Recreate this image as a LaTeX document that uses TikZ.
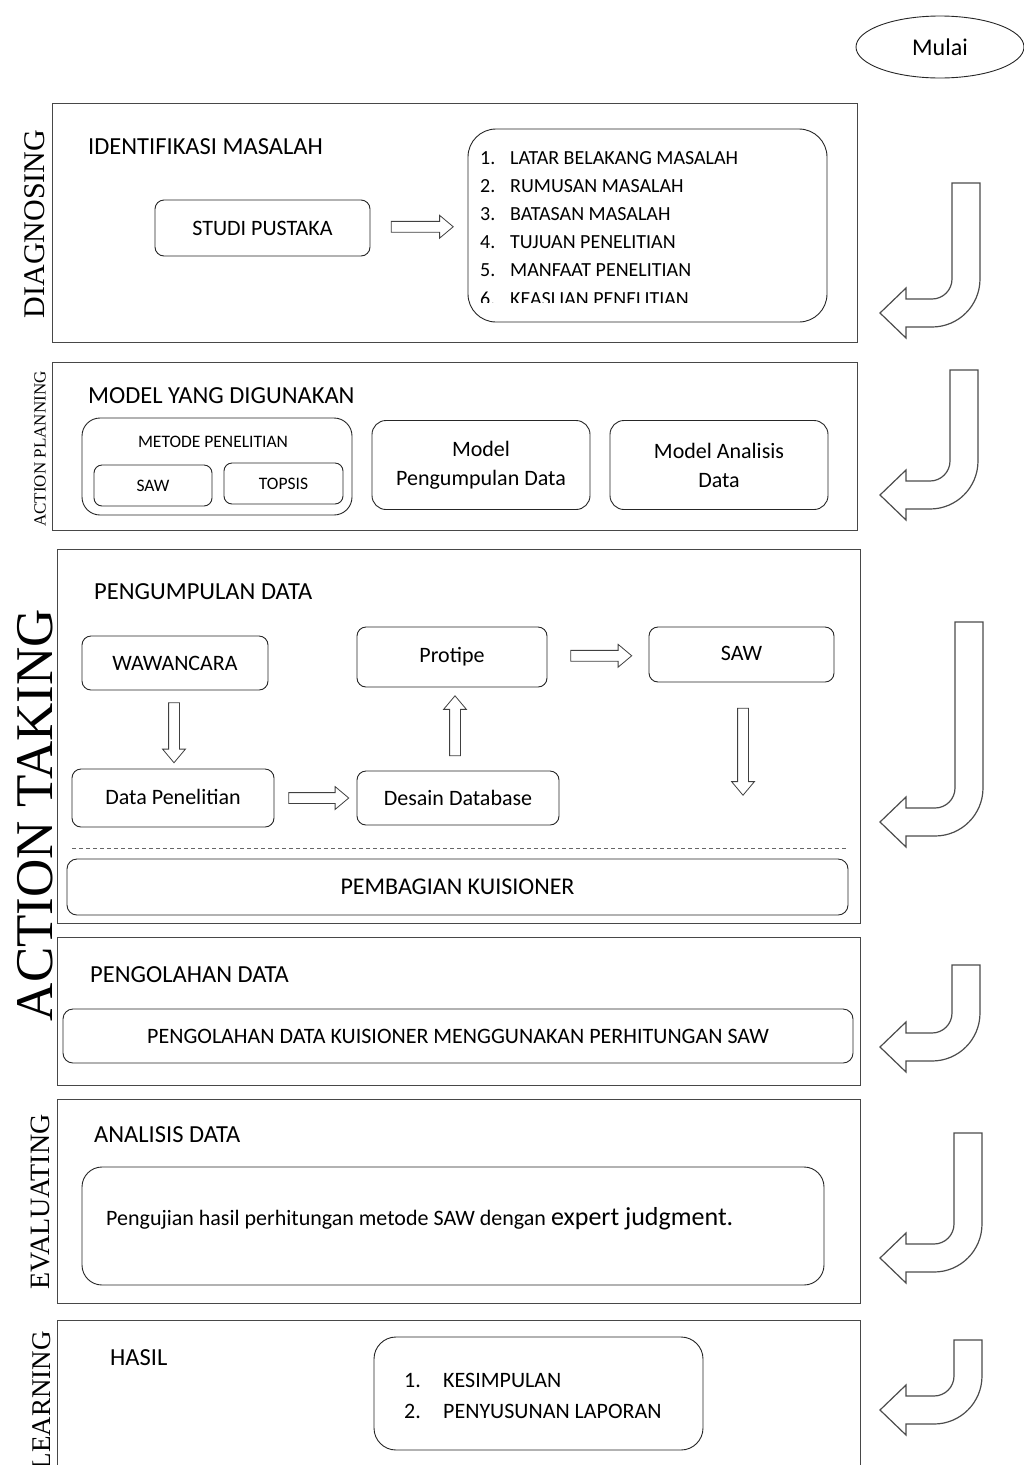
\documentclass[tikz,border=0pt]{standalone}
\usepackage{fontspec}
\setmainfont{Carlito}
\newfontfamily\tnr{Liberation Serif}
\usetikzlibrary{shapes.geometric,shapes.arrows}
\tikzset{
 secbox/.style={draw=black!72, line width=1.4pt, rectangle, inner sep=0pt, anchor=north west},
 rbox/.style={draw=black!85, line width=0.9pt, rectangle, rounded corners=#1, inner sep=0pt, align=center},
 rbox/.default=8pt,
 blk/.style={single arrow, draw=black!75, line width=0.8pt, fill=white, inner sep=5pt,
   single arrow head extend=6pt, single arrow tip angle=80, minimum height=#1},
 jarr/.style={draw=black!70, line width=1.2pt, fill=white, line join=miter},
 headtxt/.style={font=\fontsize{24.5}{28}\selectfont, anchor=base west, inner sep=0pt},
 itemtxt/.style={font=\fontsize{20}{22}\selectfont, anchor=base west, inner sep=0pt},
 sidelbl/.style={font=\tnr, rotate=90, inner sep=0pt},
 boxtxt/.style={font=\fontsize{22}{29}\selectfont},
 smalltxt/.style={font=\fontsize{17.5}{20}\selectfont},
}
\newcommand\jarrow[3]{%
 \draw[jarr] ({#1-28},#2) -- (#1,#2) -- (#1,{#3+14-48})
   arc[start angle=0,end angle=-90,radius=48pt] -- (906,{#3+14}) -- (906,{#3+25})
   -- (880,#3) -- (906,{#3-25}) -- (906,{#3-14}) -- ({#1-48},{#3-14})
   arc[start angle=-90,end angle=0,radius=20pt] -- cycle;}
\begin{document}
\begin{tikzpicture}[x=1pt,y=-1pt]
\useasboundingbox (0,0) rectangle (1024,1465);
\clip (0,0) rectangle (1024,1465);
\fill[white] (0,0) rectangle (1024,1465);

% start
\node[ellipse, draw=black!85, line width=0.9pt, minimum width=168pt, minimum height=62pt, font=\fontsize{24}{28}\selectfont] (mulai) at (940,47) {Mulai};

% ---------- DIAGNOSING
\node[secbox, minimum width=805pt, minimum height=239pt] (diag) at (52,103) {};
\node[sidelbl, font=\tnr\fontsize{30}{30}\selectfont] (ldiag) at (35,224) {DIAGNOSING};
\node[headtxt] (hdiag) at (88,154) {IDENTIFIKASI MASALAH};
\node[rbox=9pt, minimum width=215pt, minimum height=56pt, boxtxt] (studi) at (262.5,228) {STUDI PUSTAKA};
\node[rbox=28pt, minimum width=359pt, minimum height=193pt] (list) at (647.5,225.5) {};
\node[itemtxt] (n1) at (480,164) {1.}; \node[itemtxt] (i1) at (510,164) {LATAR BELAKANG MASALAH};
\node[itemtxt] (n2) at (480,192) {2.}; \node[itemtxt] (i2) at (510,192) {RUMUSAN MASALAH};
\node[itemtxt] (n3) at (480,220) {3.}; \node[itemtxt] (i3) at (510,220) {BATASAN MASALAH};
\node[itemtxt] (n4) at (480,248) {4.}; \node[itemtxt] (i4) at (510,248) {TUJUAN PENELITIAN};
\node[itemtxt] (n5) at (480,276) {5.}; \node[itemtxt] (i5) at (510,276) {MANFAAT PENELITIAN};
\begin{scope}
\clip (470,280) rectangle (820,302);
\node[itemtxt] (n6) at (480,305) {6.}; \node[itemtxt] (i6) at (510,305) {KEASLIAN PENELITIAN};
\end{scope}
\path (studi.east) -- (list.west) node[midway, blk=62pt] (a1) {};
\jarrow{980}{183}{313}

% ---------- ACTION PLANNING
\node[secbox, minimum width=805pt, minimum height=168pt] (plan) at (52,362) {};
\node[sidelbl, font=\tnr\fontsize{17}{17}\selectfont] (lplan) at (40,449) {ACTION PLANNING};
\node[headtxt] (hplan) at (88,403) {MODEL YANG DIGUNAKAN};
\node[rbox=18pt, minimum width=270pt, minimum height=97pt] (metode) at (217,466.5) {};
\node[smalltxt] (tmetode) at (213,442) {METODE PENELITIAN};
\node[rbox=8pt, minimum width=118pt, minimum height=41pt, smalltxt] (saw1) at (153,485.5) {SAW};
\node[rbox=8pt, minimum width=119pt, minimum height=41pt, smalltxt] (topsis) at (283.5,483.5) {TOPSIS};
\node[rbox=14pt, minimum width=218pt, minimum height=89pt, boxtxt] (mpd) at (481,465) {Model\\Pengumpulan Data};
\node[rbox=14pt, minimum width=218pt, minimum height=89pt, boxtxt] (mad) at (719,465) {Model Analisis\\Data};
\jarrow{978}{370}{495}

% ---------- ACTION TAKING
\node[secbox, minimum width=803pt, minimum height=374pt] (take) at (57,549) {};
\node[sidelbl, font=\tnr\fontsize{53}{53}\selectfont] (ltake) at (35,815) {ACTION TAKING};
\node[headtxt] (htake) at (94,599) {PENGUMPULAN DATA};
\node[rbox=9pt, minimum width=186pt, minimum height=54pt, boxtxt] (waw) at (175,663) {WAWANCARA};
\node[rbox=9pt, minimum width=202pt, minimum height=58pt, boxtxt] (dpen) at (173,798) {\raisebox{3pt}{Data Penelitian}};
\node[rbox=9pt, minimum width=202pt, minimum height=54pt, boxtxt] (desain) at (458,798) {Desain Database};
\node[rbox=9pt, minimum width=190pt, minimum height=60pt, boxtxt] (protipe) at (452,657) {\raisebox{5pt}{Protipe}};
\node[rbox=9pt, minimum width=185pt, minimum height=55pt, boxtxt] (saw2) at (741.5,654.5) {\raisebox{3pt}{SAW}};
\coordinate (sawend) at (743,792);
\path (waw.south) -- (dpen.north) node[pos=0.5, blk=60pt, shape border rotate=270] (a2) {};
\path (dpen.east) -- (desain.west) node[midway, blk=60pt] (a3) {};
\path (desain.north) -- (protipe.south) node[midway, blk=60pt, shape border rotate=90] (a4) {};
\path (protipe.east) -- (saw2.west) node[midway, blk=61pt] (a5) {};
\path (743,705) -- (sawend) node[midway, blk=87pt, shape border rotate=270] (a6) {};
\draw[dashed, dash pattern=on 4pt off 3pt, black!60, line width=0.7pt] (72,848) -- (848,848);
\node[rbox=10pt, minimum width=781pt, minimum height=56pt, font=\fontsize{24}{28}\selectfont] (bagi) at (457.5,887) {PEMBAGIAN KUISIONER};
\jarrow{983}{622}{822}

% ---------- PENGOLAHAN
\node[secbox, minimum width=803pt, minimum height=148pt] (olah) at (57,937) {};
\node[headtxt] (holah) at (90,982) {PENGOLAHAN DATA};
\node[rbox=10pt, minimum width=790pt, minimum height=54pt, font=\fontsize{22}{26}\selectfont] (olahbox) at (458,1036) {PENGOLAHAN DATA KUISIONER MENGGUNAKAN PERHITUNGAN SAW};
\jarrow{980}{965}{1047}

% ---------- EVALUATING
\node[secbox, minimum width=803pt, minimum height=204pt] (eval) at (57,1099) {};
\node[sidelbl, font=\tnr\fontsize{28}{28}\selectfont] (leval) at (40,1202) {EVALUATING};
\node[headtxt] (heval) at (94,1142) {ANALISIS DATA};
\node[rbox=20pt, minimum width=742pt, minimum height=118pt] (evalbox) at (453,1226) {};
\node[anchor=base west, inner sep=0pt] (evaltxt) at (106,1225) {{\fontsize{22}{26}\selectfont Pengujian hasil perhitungan metode SAW dengan }{\fontsize{26}{30}\selectfont expert judgment.}};
\jarrow{982}{1133}{1258}

% ---------- LEARNING
\node[secbox, minimum width=803pt, minimum height=170pt] (learn) at (57,1320) {};
\node[sidelbl, font=\tnr\fontsize{27}{27}\selectfont] (llearn) at (42,1400) {LEARNING};
\node[headtxt] (hlearn) at (110,1365) {HASIL};
\node[rbox=22pt, minimum width=329pt, minimum height=113pt] (hasil) at (538.5,1393.5) {};
\node[itemtxt, font=\fontsize{22}{24}\selectfont] (k1) at (404,1387) {1.}; \node[itemtxt, font=\fontsize{22}{24}\selectfont] (k1t) at (443,1387) {KESIMPULAN};
\node[itemtxt, font=\fontsize{22}{24}\selectfont] (k2) at (404,1418) {2.}; \node[itemtxt, font=\fontsize{22}{24}\selectfont] (k2t) at (443,1418) {PENYUSUNAN LAPORAN};
\jarrow{982}{1340}{1410}
\end{tikzpicture}
\end{document}
